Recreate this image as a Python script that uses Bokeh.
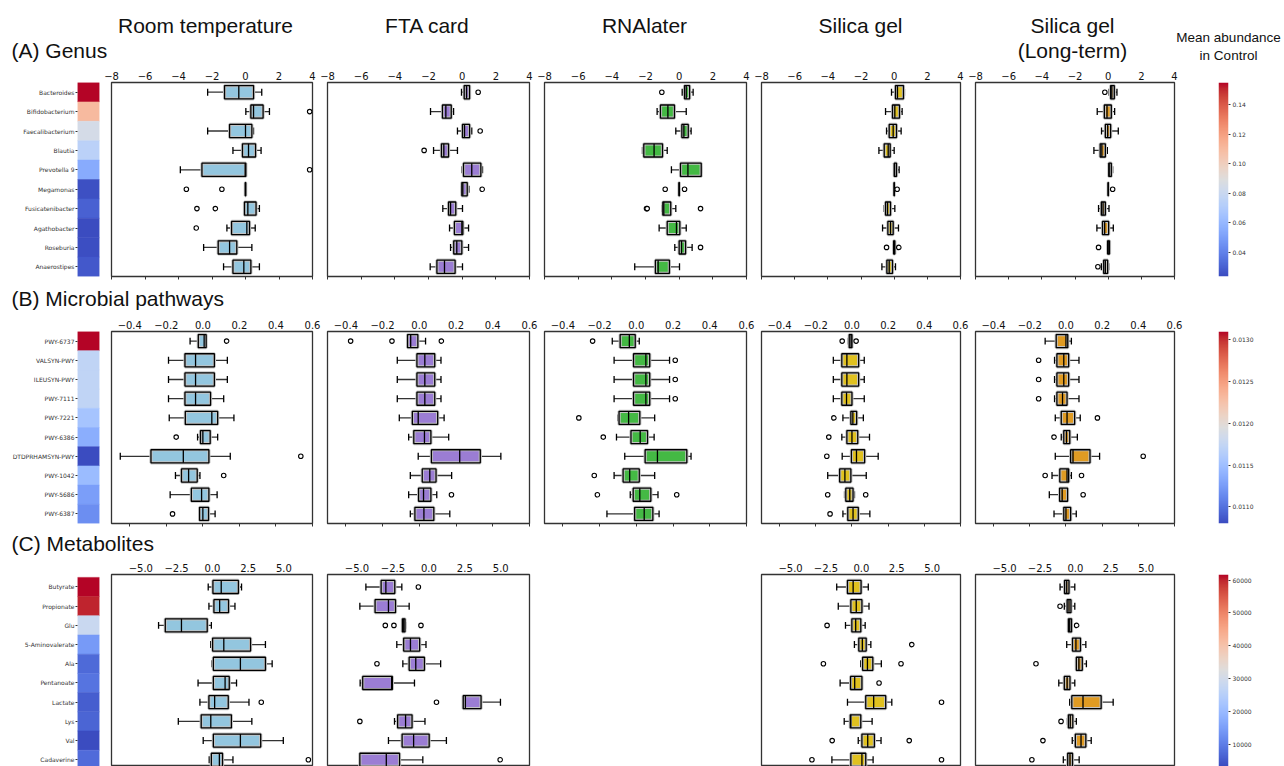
import numpy as np
from bokeh.plotting import figure
from bokeh.layouts import column, row
from bokeh.models import (Range1d, LinearAxis, FixedTicker, ColumnDataSource,
                          LinearColorMapper, CustomJSTickFormatter)
from bokeh.core.properties import value
from bokeh.embed import file_html
from bokeh.resources import INLINE

# ------------------------------------------------------------------ data
methods = ["Room temperature", "FTA card", "RNAlater", "Silica gel", "Silica gel\n(Long-term)"]
method_colors = ["#93c6df", "#9b7dd4", "#44b944", "#e0c11f", "#e09b23"]

genus_names = ["Bacteroides", "Bifidobacterium", "Faecalibacterium", "Blautia", "Prevotella 9",
               "Megamonas", "Fusicatenibacter", "Agathobacter", "Roseburia", "Anaerostipes"]
genus_control = [0.155, 0.110, 0.085, 0.074, 0.0545, 0.025, 0.030, 0.0237, 0.0245, 0.0275]

pathway_names = ["PWY-6737", "VALSYN-PWY", "ILEUSYN-PWY", "PWY-7111", "PWY-7221",
                 "PWY-6386", "DTDPRHAMSYN-PWY", "PWY-1042", "PWY-5686", "PWY-6387"]
pathway_control = [0.0131, 0.01172, 0.01172, 0.01172, 0.01154, 0.01136, 0.0108, 0.01147, 0.01126, 0.01116]

metab_names = ["Butyrate", "Propionate", "Glu", "5-Aminovalerate", "Ala",
               "Pentanoate", "Lactate", "Lys", "Val", "Cadaverine"]
metab_control = [61700, 60000, 28200, 14400, 7200, 8600, 5700, 6600, 3300, 7500]

# box statistics: (whisker low, Q1, median, Q3, whisker high); outliers: (row, value)
genus_room = [(-2.26, -1.25, -0.40, 0.48, 0.97), (0.02, 0.32, 0.48, 1.05, 1.43),
              (-2.26, -0.95, 0.00, 0.38, 0.48), (-0.75, -0.18, 0.18, 0.60, 0.93),
              (-3.89, -2.60, -0.02, 0.02, 0.02), (-0.02, -0.01, 0.00, 0.01, 0.02),
              (-0.10, -0.06, 0.14, 0.63, 0.83), (-1.11, -0.83, 0.08, 0.24, 0.58),
              (-2.50, -1.63, -0.95, -0.52, 0.38), (-1.31, -0.75, -0.10, 0.32, 0.83)]
genus_room_out = [(1, 3.83), (4, 3.83), (5, -3.53), (5, -1.41), (6, -2.90), (6, -1.80), (7, -2.94)]

genus_fta = [(-0.04, 0.12, 0.26, 0.44, 0.48), (-1.88, -1.17, -0.97, -0.65, -0.51),
             (-0.28, 0.02, 0.14, 0.44, 0.57), (-1.70, -1.23, -1.09, -0.81, -0.28),
             (0.00, 0.08, 0.57, 1.11, 1.21), (-0.04, -0.02, 0.04, 0.30, 0.40),
             (-1.15, -0.81, -0.69, -0.38, 0.02), (-0.75, -0.46, -0.02, 0.04, 0.38),
             (-0.69, -0.50, -0.32, -0.02, 0.38), (-1.90, -1.50, -1.05, -0.42, 0.02)]
genus_fta_out = [(0, 0.95), (2, 1.07), (3, -2.26), (5, 1.19)]

genus_rna = [(0.18, 0.32, 0.42, 0.62, 0.83), (-1.31, -1.11, -0.67, -0.28, 0.42),
             (-0.20, 0.16, 0.28, 0.54, 0.71), (-2.18, -2.10, -1.49, -0.99, -0.71),
             (-0.46, 0.08, 0.52, 1.31, 1.33), (-0.02, -0.01, 0.00, 0.01, 0.02),
             (-1.01, -0.97, -0.91, -0.50, -0.20), (-1.19, -0.71, -0.16, 0.04, 0.42),
             (-0.26, 0.00, 0.14, 0.38, 0.77), (-2.64, -1.41, -1.25, -0.58, 0.02)]
genus_rna_out = [(0, -1.03), (5, -0.83), (5, 0.32), (6, -1.94), (6, -1.90), (6, 1.27), (8, 1.27)]

genus_silica = [(-0.16, 0.08, 0.20, 0.56, 0.62), (-0.52, -0.10, 0.04, 0.32, 0.48),
                (-0.46, -0.30, -0.06, 0.14, 0.42), (-0.92, -0.60, -0.36, -0.24, 0.00),
                (0.00, 0.01, 0.02, 0.14, 0.30), (0.00, 0.00, 0.00, 0.01, 0.02),
                (-0.60, -0.52, -0.40, -0.22, 0.04), (-0.70, -0.38, -0.22, -0.06, 0.26),
                (-0.06, -0.03, 0.00, 0.04, 0.06), (-0.74, -0.44, -0.30, -0.10, 0.08)]
genus_silica_out = [(5, 0.18), (8, -0.46), (8, 0.28)]

genus_long = [(0.06, 0.15, 0.22, 0.37, 0.53), (-0.66, -0.23, -0.07, 0.19, 0.39),
              (-0.40, -0.17, -0.03, 0.15, 0.61), (-0.86, -0.48, -0.38, -0.17, -0.05),
              (0.03, 0.04, 0.06, 0.19, 0.27), (0.00, 0.00, 0.00, 0.01, 0.02),
              (-0.58, -0.41, -0.31, -0.17, 0.05), (-0.68, -0.34, -0.21, 0.03, 0.31),
              (-0.05, -0.03, 0.00, 0.08, 0.09), (-0.41, -0.27, -0.17, -0.03, 0.03)]
genus_long_out = [(0, -0.20), (5, 0.27), (8, -0.58), (9, -0.62)]

path_room = [(-0.070, -0.025, 0.007, 0.018, 0.018), (-0.188, -0.098, -0.040, 0.063, 0.134),
             (-0.188, -0.098, -0.040, 0.063, 0.134), (-0.188, -0.098, -0.040, 0.042, 0.114),
             (-0.184, -0.096, 0.049, 0.081, 0.170), (-0.029, -0.013, 0.000, 0.040, 0.081),
             (-0.452, -0.284, -0.107, 0.033, 0.150), (-0.150, -0.117, -0.078, -0.031, -0.016),
             (-0.179, -0.063, -0.007, 0.033, 0.078), (-0.023, -0.018, 0.000, 0.031, 0.067)]
path_room_out = [(0, 0.13), (5, -0.146), (6, 0.536), (7, 0.114), (9, -0.166)]

path_fta = [(-0.064, -0.064, -0.047, -0.008, 0.034), (-0.120, -0.013, 0.030, 0.084, 0.118),
            (-0.120, -0.013, 0.030, 0.084, 0.118), (-0.120, -0.013, 0.030, 0.084, 0.118),
            (-0.109, -0.038, -0.006, 0.100, 0.135), (-0.058, -0.030, 0.028, 0.063, 0.160),
            (-0.006, 0.066, 0.220, 0.332, 0.444), (-0.049, 0.016, 0.057, 0.091, 0.176),
            (-0.058, -0.004, 0.023, 0.063, 0.095), (-0.049, -0.024, 0.025, 0.079, 0.166)]
path_fta_out = [(0, -0.374), (0, -0.149), (0, 0.120), (8, 0.175)]

path_rna = [(-0.131, -0.088, -0.038, -0.006, 0.016), (-0.121, -0.015, 0.052, 0.073, 0.181),
            (-0.121, -0.015, 0.052, 0.073, 0.181), (-0.121, -0.015, 0.052, 0.073, 0.181),
            (-0.100, -0.094, -0.042, 0.019, 0.100), (-0.108, -0.029, 0.021, 0.061, 0.097),
            (-0.063, 0.048, 0.115, 0.275, 0.298), (-0.121, -0.072, -0.036, 0.016, 0.100),
            (-0.033, -0.017, 0.019, 0.079, 0.118), (-0.160, -0.009, 0.043, 0.090, 0.124)]
path_rna_out = [(0, -0.238), (1, 0.212), (2, 0.212), (3, 0.212), (4, -0.313), (5, -0.180),
                (7, -0.229), (8, -0.212), (8, 0.220)]

path_silica = [(-0.020, -0.015, -0.005, 0.000, 0.002), (-0.103, -0.056, -0.028, 0.037, 0.068),
               (-0.103, -0.056, -0.028, 0.037, 0.068), (-0.103, -0.056, -0.030, 0.000, 0.068),
               (-0.050, -0.006, 0.005, 0.026, 0.063), (-0.056, -0.028, 0.000, 0.032, 0.097),
               (-0.054, -0.003, 0.025, 0.070, 0.145), (-0.134, -0.068, -0.039, -0.006, 0.079),
               (-0.041, -0.034, -0.012, 0.006, 0.014), (-0.050, -0.023, 0.006, 0.035, 0.099)]
path_silica_out = [(0, -0.054), (0, 0.023), (4, -0.100), (5, -0.128), (6, -0.139),
                   (8, -0.134), (8, 0.076), (9, -0.121)]

path_long = [(-0.115, -0.054, 0.000, 0.010, 0.030), (-0.063, -0.050, -0.012, 0.015, 0.072),
             (-0.063, -0.050, -0.012, 0.015, 0.072), (-0.063, -0.050, -0.019, 0.006, 0.072),
             (-0.059, -0.026, 0.006, 0.048, 0.079), (-0.026, -0.012, 0.003, 0.021, 0.063),
             (-0.059, 0.026, 0.039, 0.133, 0.186), (-0.077, -0.034, 0.006, 0.015, 0.030),
             (-0.092, -0.035, -0.021, 0.009, 0.009), (-0.066, -0.012, 0.000, 0.026, 0.057)]
path_long_out = [(1, -0.151), (2, -0.151), (3, -0.151), (4, 0.174), (5, -0.066), (6, 0.427),
                 (7, -0.115), (7, 0.086), (8, 0.095)]

metab_room = [(-0.29, 0.04, 0.62, 1.82, 2.04), (-0.24, 0.11, 0.51, 1.13, 1.58),
              (-3.76, -3.29, -2.16, -0.36, -0.07), (-0.11, 0.02, 0.80, 2.67, 3.71),
              (-0.02, 0.07, 1.96, 3.71, 4.18), (-1.00, 0.07, 0.89, 1.18, 1.69),
              (-0.87, -0.24, 0.16, 1.11, 2.56), (-2.38, -0.78, -0.11, 1.33, 2.76),
              (-0.64, 0.07, 1.96, 3.38, 4.96), (-0.22, -0.07, 0.49, 0.71, 1.44)]
metab_room_out = [(6, 3.42), (9, 6.71)]

metab_fta = [(-4.38, -3.32, -2.99, -2.37, -1.88), (-4.80, -3.74, -2.81, -2.32, -1.37),
             (-1.86, -1.84, -1.75, -1.66, -1.62), (-2.23, -1.75, -1.28, -0.64, -0.20),
             (-1.81, -1.37, -0.91, -0.31, 0.82), (-4.78, -4.60, -2.59, -2.54, -1.00),
             (2.39, 2.39, 2.54, 3.63, 4.98), (-2.39, -2.17, -1.62, -1.17, -0.27),
             (-2.81, -1.86, -1.06, 0.02, 1.22), (-4.80, -4.80, -2.96, -2.04, -0.42)]
metab_fta_out = [(0, -0.73), (2, -3.03), (2, -2.43), (2, -0.55), (4, -3.61), (6, 0.53),
                 (7, -4.80), (9, 4.96)]

metab_silica = [(-1.74, -0.98, -0.58, -0.02, 0.49), (-1.63, -0.74, -0.36, 0.04, 0.54),
                (-1.12, -0.67, -0.40, -0.04, 0.27), (-0.49, -0.18, 0.07, 0.34, 0.67),
                (-0.04, 0.09, 0.43, 0.81, 1.41), (-1.50, -0.76, -0.47, 0.04, 0.07),
                (-0.98, 0.31, 0.87, 1.72, 2.15), (-1.21, -0.78, -0.74, -0.04, 0.76),
                (-0.22, 0.04, 0.45, 0.92, 1.39), (-2.08, -0.74, 0.04, 0.31, 0.83)]
metab_silica_out = [(2, -2.42), (3, 3.56), (4, -2.68), (4, 2.80), (5, 1.25), (6, 5.66),
                    (8, -2.06), (8, 3.38), (9, -3.49), (9, 5.66)]

metab_long = [(-1.08, -0.76, -0.61, -0.45, -0.04), (-0.78, -0.58, -0.45, -0.31, -0.04),
              (-0.54, -0.49, -0.40, -0.27, -0.22), (-0.61, -0.20, 0.04, 0.36, 0.74),
              (0.02, 0.07, 0.25, 0.49, 0.78), (-1.17, -0.78, -0.58, -0.38, -0.04),
              (-0.40, -0.25, 0.54, 1.82, 2.67), (-0.56, -0.49, -0.36, -0.18, 0.07),
              (-0.22, 0.00, 0.40, 0.74, 1.12), (-0.85, -0.54, -0.38, -0.20, 0.27)]
metab_long_out = [(1, -1.08), (2, 0.09), (4, -2.78), (7, -1.01), (8, -2.29), (9, -3.07)]

genus_ticks = [-8, -6, -4, -2, 0, 2, 4]
path_ticks = [-0.4, -0.2, 0.0, 0.2, 0.4, 0.6]
metab_ticks = [-5.0, -2.5, 0.0, 2.5, 5.0]
genus_cb_ticks = [0.04, 0.06, 0.08, 0.10, 0.12, 0.14]
path_cb_ticks = [0.0110, 0.0115, 0.0120, 0.0125, 0.0130]
metab_cb_ticks = [10000, 20000, 30000, 40000, 50000, 60000]

# ------------------------------------------------------------------ palette (coolwarm)
_cw = [(59, 76, 192), (68, 90, 204), (77, 104, 215), (87, 117, 225), (98, 130, 234),
       (108, 142, 241), (119, 154, 247), (130, 165, 251), (141, 176, 254), (152, 185, 255),
       (163, 194, 255), (174, 201, 253), (184, 208, 249), (194, 213, 244), (204, 217, 238),
       (213, 219, 230), (221, 221, 221), (229, 216, 209), (236, 211, 197), (241, 204, 185),
       (245, 196, 173), (247, 187, 160), (247, 177, 148), (247, 166, 135), (244, 154, 123),
       (241, 141, 111), (236, 127, 99), (229, 112, 88), (222, 96, 77), (213, 80, 66),
       (203, 62, 56), (192, 40, 47), (180, 4, 38)]
_a = np.array(_cw, dtype=float)
_t = np.linspace(0, 1, len(_cw))
_tt = np.linspace(0, 1, 256)
COOLWARM = ["#%02x%02x%02x" % tuple(int(round(np.interp(t, _t, _a[:, k]))) for k in range(3)) for t in _tt]

# ------------------------------------------------------------------ layout geometry (page px)
FRAME_X = [111, 327, 544, 761, 975]
FRAME_W = [201, 202, 202, 199, 199]
HM_X, HM_W = 77, 22
CB_X, CB_W = 1218, 10
R_LAST = 10
PAGE_W = 1284
TICK_FONT = "DejaVu Sans"
TITLE_FONT = "Liberation Sans"


def base_fig(width, height, xr, yr, left, right, top, bottom, outline=True):
    p = figure(width=width, height=height, x_range=xr, y_range=yr, title=None,
               output_backend="svg", toolbar_location=None,
               x_axis_location=None, y_axis_location=None,
               min_border_left=left, min_border_right=right,
               min_border_top=top, min_border_bottom=bottom)
    p.grid.visible = False
    p.background_fill_color = "white"
    p.border_fill_color = "white"
    if outline:
        p.outline_line_color = "#333333"
        p.outline_line_width = 1.3
    else:
        p.outline_line_color = None
    return p


def fmt(dec, minus=True):
    code = "return tick.toFixed(%d)" % dec
    if minus:
        code += ".replace('-', '\\u2212')"
    return CustomJSTickFormatter(code=code + ";")


def draw_boxes(p, stats, outs, color):
    lo, q1, med, q3, hi = (list(c) for c in zip(*stats))
    y = list(range(len(stats)))
    src = ColumnDataSource(dict(
        y=y, lo=lo, q1=q1, med=med, q3=q3, hi=hi,
        mt=[v - 0.34 for v in y], mb=[v + 0.34 for v in y],
        ct=[v - 0.18 for v in y], cb=[v + 0.18 for v in y]))
    p.segment(x0="lo", y0="y", x1="q1", y1="y", source=src, line_color="#333333", line_width=1.3)
    p.segment(x0="q3", y0="y", x1="hi", y1="y", source=src, line_color="#333333", line_width=1.3)
    p.segment(x0="lo", y0="ct", x1="lo", y1="cb", source=src, line_color="black", line_width=1.3)
    p.segment(x0="hi", y0="ct", x1="hi", y1="cb", source=src, line_color="black", line_width=1.3)
    p.hbar(y="y", left="q1", right="q3", height=0.68, source=src,
           fill_color=color, line_color="#c4c4c4", line_width=3.2)
    p.hbar(y="y", left="q1", right="q3", height=0.68, source=src,
           fill_color=None, line_color="black", line_width=1.3)
    p.segment(x0="med", y0="mt", x1="med", y1="mb", source=src, line_color="black", line_width=1.3)
    if outs:
        oy, ox = zip(*outs)
        p.scatter(x=list(ox), y=list(oy), marker="circle", size=4.5,
                  fill_color="white", line_color="black", line_width=1.1)


def make_row(names, ctrl, panels, outs, cfg):
    L, top, fh, bottom = cfg["L"], cfg["top"], cfg["fh"], cfg["bottom"]
    H = top + fh + bottom
    yr0, yr1 = cfg["yr"]
    figs = []
    vmin, vmax = min(ctrl), max(ctrl)
    mapper = LinearColorMapper(palette=COOLWARM, low=vmin, high=vmax)

    # heatmap strip with category labels
    hm_end = FRAME_X[0] - L
    hm = base_fig(hm_end, H, Range1d(0, 1), Range1d(yr0, yr1),
                  HM_X, hm_end - (HM_X + HM_W), top, bottom, outline=False)
    hsrc = ColumnDataSource(dict(x=[0.5] * len(ctrl), y=list(range(len(ctrl))), v=ctrl))
    hm.rect(x="x", y="y", width=1, height=1, source=hsrc,
            fill_color={"field": "v", "transform": mapper},
            line_color={"field": "v", "transform": mapper}, line_width=0.5)
    yax = LinearAxis(ticker=FixedTicker(ticks=list(range(len(names))), minor_ticks=[]),
                     major_label_overrides={i: n for i, n in enumerate(names)})
    yax.axis_line_color = None
    yax.major_tick_out = 2
    yax.major_tick_in = 0
    yax.major_tick_line_color = "#333333"
    yax.major_label_standoff = 1
    yax.major_label_text_font = TICK_FONT
    yax.major_label_text_font_size = "6px"
    yax.major_label_text_color = "#333333"
    hm.add_layout(yax, "left")
    figs.append(hm)

    # box panels
    for i in range(5):
        start = FRAME_X[i] - L
        end = FRAME_X[i + 1] - L if i < 4 else FRAME_X[4] + FRAME_W[4] + R_LAST
        right = end - (FRAME_X[i] + FRAME_W[i])
        stats = panels[i]
        p = base_fig(end - start, H, Range1d(*cfg["xr"]), Range1d(yr0, yr1),
                     L, right, top, bottom, outline=stats is not None)
        if stats is None:
            figs.append(p)
            continue
        draw_boxes(p, stats, outs[i], method_colors[i])
        ax = LinearAxis(ticker=FixedTicker(ticks=cfg["ticks"], minor_ticks=[]),
                        formatter=fmt(cfg["dec"]))
        ax.axis_line_color = None
        ax.major_tick_out = 0
        ax.major_tick_in = 0
        ax.major_label_standoff = 3
        ax.major_label_text_font = TICK_FONT
        ax.major_label_text_font_size = "10px"
        ax.major_label_text_color = "#111111"
        p.add_layout(ax, "above")
        if cfg["bottom_ticks"]:
            bx = LinearAxis(ticker=FixedTicker(ticks=cfg["ticks"], minor_ticks=[]),
                            formatter=CustomJSTickFormatter(code="return '';"))
            bx.axis_line_color = None
            bx.major_tick_out = 3
            bx.major_tick_in = 0
            bx.major_tick_line_color = "#333333"
            bx.major_label_standoff = 0
            p.add_layout(bx, "below")
        figs.append(p)

    # colour bar
    cb_start = FRAME_X[4] + FRAME_W[4] + R_LAST
    cb_left = CB_X - cb_start
    cbw = PAGE_W - cb_start
    cb = base_fig(cbw, H, Range1d(0, 1), Range1d(cfg["cb_lo"], vmax),
                  cb_left, cbw - cb_left - CB_W, top, bottom, outline=False)
    grad = np.linspace(vmin, vmax, 256).reshape(-1, 1)
    cb.image(image=[grad], x=0, y=vmin, dw=1, dh=vmax - vmin, color_mapper=mapper)
    rax = LinearAxis(ticker=FixedTicker(ticks=cfg["cb_ticks"], minor_ticks=[]),
                     formatter=fmt(cfg["cb_dec"], minus=False))
    rax.axis_line_color = None
    rax.major_tick_out = 2
    rax.major_tick_in = 0
    rax.major_tick_line_color = "#333333"
    rax.major_label_standoff = 2
    rax.major_label_text_font = TICK_FONT
    rax.major_label_text_font_size = "6px"
    rax.major_label_text_color = "#333333"
    cb.add_layout(rax, "right")
    figs.append(cb)
    return row(*figs)


def text_fig(height, items):
    p = figure(width=PAGE_W, height=height, x_range=Range1d(0, PAGE_W),
               y_range=Range1d(height, 0), title=None, output_backend="svg", toolbar_location=None,
               x_axis_location=None, y_axis_location=None, min_border=0)
    p.min_border_left = p.min_border_right = p.min_border_top = p.min_border_bottom = 0
    p.outline_line_color = None
    p.grid.visible = False
    for (x, y, txt, size, align) in items:
        # y is the wanted baseline; place the text by its middle
        px = float(size.replace("px", ""))
        p.text(x=[x], y=[y - 0.345 * px], text=[txt], text_font=value(TITLE_FONT),
               text_font_size=size, text_align=align, text_baseline="middle",
               text_color="#111111")
    return p


# ------------------------------------------------------------------ build
TOP = 17
title_x = [205, 427, 644, 860, 1072]
header_items = []
for tx, m in zip(title_x, methods):
    for k, line in enumerate(m.split("\n")):
        header_items.append((tx, 32.5 + 25 * k, line, "21px", "center"))
header_items.append((11, 57, "(A) Genus", "21px", "left"))
header_items.append((1228, 41.7, "Mean abundance", "13.5px", "center"))
header_items.append((1228, 60, "in Control", "13.5px", "center"))
header = text_fig(82 - TOP, header_items)

rowA = make_row(genus_names, genus_control,
                [genus_room, genus_fta, genus_rna, genus_silica, genus_long],
                [genus_room_out, genus_fta_out, genus_rna_out, genus_silica_out, genus_long_out],
                dict(L=10, top=TOP, fh=194, bottom=6, yr=(9.5, -0.5), xr=(-8, 4),
                     ticks=genus_ticks, dec=0, bottom_ticks=True,
                     cb_lo=min(genus_control), cb_ticks=genus_cb_ticks, cb_dec=2))

labB_top = 282
labB = text_fig(331 - TOP - labB_top, [(11, 305 - labB_top, "(B) Microbial pathways", "21px", "left")])

rowB = make_row(pathway_names, pathway_control,
                [path_room, path_fta, path_rna, path_silica, path_long],
                [path_room_out, path_fta_out, path_rna_out, path_silica_out, path_long_out],
                dict(L=5, top=TOP, fh=192, bottom=6, yr=(9.5, -0.5), xr=(-0.5, 0.6),
                     ticks=path_ticks, dec=1, bottom_ticks=True,
                     cb_lo=min(pathway_control), cb_ticks=path_cb_ticks, cb_dec=4))

labC_top = 529
labC = text_fig(574 - TOP - labC_top, [(11, 550 - labC_top, "(C) Metabolites", "21px", "left")])

rowC = make_row(metab_names, metab_control,
                [metab_room, metab_fta, None, metab_silica, metab_long],
                [metab_room_out, metab_fta_out, None, metab_silica_out, metab_long_out],
                dict(L=10, top=TOP, fh=192, bottom=0, yr=(9.35, -0.65), xr=(-7.05, 7.0),
                     ticks=metab_ticks, dec=1, bottom_ticks=False,
                     cb_lo=min(metab_control), cb_ticks=metab_cb_ticks, cb_dec=0))

layout = column(header, rowA, labB, rowB, labC, rowC)

open("out.html", "w").write(file_html(layout, INLINE))
